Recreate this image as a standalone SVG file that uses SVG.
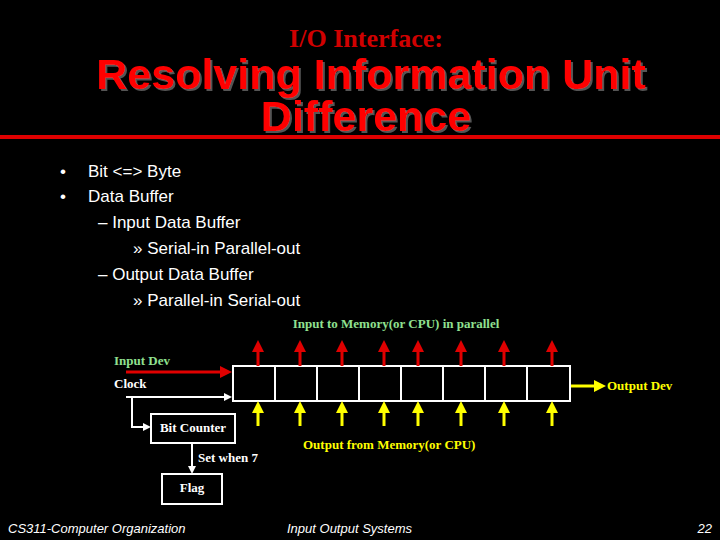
<svg xmlns="http://www.w3.org/2000/svg" width="720" height="540" viewBox="0 0 720 540">
<defs>
<style>
.t{font-family:"Liberation Serif",serif;font-weight:bold;font-size:13px}
.b{font-family:"Liberation Sans",Arial,sans-serif;font-size:17px;fill:#fff}
.f{font-family:"Liberation Sans",Arial,sans-serif;font-style:italic;font-size:13px;fill:#fff}
.box{fill:none;stroke:#fff;stroke-width:2}
.red{stroke:#e00000;stroke-width:3}
.yel{stroke:#ffff00;stroke-width:3}
.wl{stroke:#fff;stroke-width:2;fill:none}
</style>
<filter id="sh" x="-5%" y="-20%" width="110%" height="140%"><feDropShadow dx="2" dy="2" stdDeviation="0.5" flood-color="#555"/></filter>
<marker id="mr" markerWidth="4" markerHeight="4" refX="2" refY="2" orient="auto" markerUnits="strokeWidth"><path d="M0,0L4,2L0,4z" fill="#e00000"/></marker>
<marker id="my" markerWidth="4" markerHeight="4" refX="2" refY="2" orient="auto" markerUnits="strokeWidth"><path d="M0,0L4,2L0,4z" fill="#ffff00"/></marker>
<marker id="mw" markerWidth="4" markerHeight="4" refX="3" refY="2" orient="auto" markerUnits="strokeWidth"><path d="M0,0L4,2L0,4z" fill="#fff"/></marker>
</defs>
<rect width="720" height="540" fill="#000"/>
<g id="title">
<text x="366" y="47" text-anchor="middle" font-family="Liberation Serif,serif" font-weight="bold" font-size="26" fill="#d00000">I/O Interface:</text>
<g font-family="Liberation Sans,Arial,sans-serif" font-weight="bold" font-size="43" text-anchor="middle" fill="#ff0000" filter="url(#sh)">
<text x="371" y="89">Resolving Information Unit</text>
<text x="366" y="131">Difference</text>
</g>
<rect x="0" y="135" width="720" height="4" fill="#e00000"/>
</g>
<g id="bullets">
<text class="b" x="60" y="177">•</text><text class="b" x="88" y="177">Bit  &lt;=&gt;  Byte</text>
<text class="b" x="60" y="202">•</text><text class="b" x="88" y="202">Data Buffer</text>
<text class="b" x="98" y="228">–  Input Data Buffer</text>
<text class="b" x="133" y="254">»  Serial-in Parallel-out</text>
<text class="b" x="98" y="280">–  Output Data Buffer</text>
<text class="b" x="133" y="306">»  Parallel-in Serial-out</text>
</g>
<g id="register">
<rect class="box" x="233" y="366" width="337" height="35"/>
<path class="wl" d="M275,366V401M317,366V401M359,366V401M401,366V401M443,366V401M485,366V401M527,366V401" stroke-width="1"/>
</g>
<g id="bitcounter"><rect class="box" x="151" y="414" width="84" height="29"/><text class="t" x="193" y="432" text-anchor="middle" fill="#fff">Bit Counter</text></g>
<g id="flag"><rect class="box" x="162" y="474" width="60" height="30"/><text class="t" x="192" y="492" text-anchor="middle" fill="#fff">Flag</text></g>
<g id="labels" class="t">
<text x="396" y="328" text-anchor="middle" fill="#90e090">Input to Memory(or CPU) in parallel</text>
<text x="114" y="365" fill="#90e090">Input Dev</text>
<text x="114" y="388" fill="#fff">Clock</text>
<text x="607" y="390" fill="#ffff00">Output Dev</text>
<text x="303" y="449" fill="#ffff00">Output from Memory(or CPU)</text>
<text x="198" y="462" fill="#fff">Set when 7</text>
</g>
<g id="connectors">
<g class="red" marker-end="url(#mr)">
<line x1="258" y1="366" x2="258" y2="346"/><line x1="300" y1="366" x2="300" y2="346"/><line x1="342" y1="366" x2="342" y2="346"/><line x1="384" y1="366" x2="384" y2="346"/><line x1="418" y1="366" x2="418" y2="346"/><line x1="461" y1="366" x2="461" y2="346"/><line x1="504" y1="366" x2="504" y2="346"/><line x1="552" y1="366" x2="552" y2="346"/>
<line x1="126" y1="372" x2="226" y2="372"/>
</g>
<g class="yel" marker-end="url(#my)">
<line x1="258" y1="426" x2="258" y2="407"/><line x1="300" y1="426" x2="300" y2="407"/><line x1="342" y1="426" x2="342" y2="407"/><line x1="384" y1="426" x2="384" y2="407"/><line x1="418" y1="426" x2="418" y2="407"/><line x1="461" y1="426" x2="461" y2="407"/><line x1="504" y1="426" x2="504" y2="407"/><line x1="552" y1="426" x2="552" y2="407"/>
<line x1="571" y1="386" x2="600" y2="386"/>
</g>
<g class="wl" marker-end="url(#mw)">
<line x1="126" y1="397" x2="230" y2="397"/>
<path d="M132,397V427H149"/>
<line x1="192" y1="443" x2="192" y2="472"/>
</g>
</g>
<g id="footer">
<text class="f" x="8" y="533">CS311-Computer Organization</text>
<text class="f" x="287" y="533">Input Output Systems</text>
<text class="f" x="712" y="533" text-anchor="end">22</text>
</g>
</svg>
